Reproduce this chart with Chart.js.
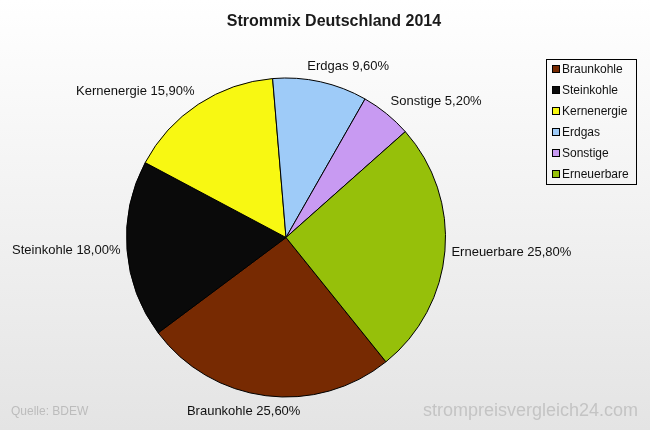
<!DOCTYPE html>
<html>
<head>
<meta charset="utf-8">
<title>Strommix Deutschland 2014</title>
<script src="https://cdn.jsdelivr.net/npm/chart.js@4.4.0/dist/chart.umd.min.js"></script>
<style>
  html, body { margin: 0; padding: 0; background: #fff; }
  #wrap { width: 650px; height: 430px; }
</style>
</head>
<body>
<div id="wrap"><canvas id="myChart" width="650" height="430"></canvas></div>
<script>
// Daten
var labels = ['Braunkohle', 'Steinkohle', 'Kernenergie', 'Erdgas', 'Sonstige', 'Erneuerbare'];
var anteile = [25.6, 18.0, 15.9, 9.6, 5.2, 25.8];
var farben = ['#772a02', '#0a0a0a', '#f8f812', '#9ecbf8', '#c89af2', '#96c00a'];
var titel = 'Strommix Deutschland 2014';
var quelle = 'Quelle: BDEW';
var marke = 'strompreisvergleich24.com';

function prozent(v) {
    return v.toFixed(2).replace('.', ',') + '%';
}

var hintergrund = {
    id: 'hintergrund',
    beforeDraw: function (chart) {
        var c = chart.ctx;
        var g = c.createLinearGradient(0, 0, 0, chart.height);
        g.addColorStop(0, '#ffffff');
        g.addColorStop(1, '#e4e4e4');
        c.save();
        c.fillStyle = g;
        c.fillRect(0, 0, chart.width, chart.height);
        c.restore();
    }
};

var beschriftung = {
    id: 'beschriftung',
    afterDraw: function (chart) {
        var c = chart.ctx;
        var meta = chart.getDatasetMeta(0);
        c.save();
        // Titel
        c.fillStyle = '#1a1a1a';
        c.font = 'bold 16px "Liberation Sans", Arial, sans-serif';
        c.textAlign = 'center';
        c.textBaseline = 'middle';
        c.fillText(titel, 334, 22);

        // Slice labels
        c.font = '13px "Liberation Sans", Arial, sans-serif';
        c.fillStyle = '#111';
        meta.data.forEach(function (arc, i) {
            var p = arc.getProps(['x', 'y', 'startAngle', 'endAngle', 'outerRadius'], true);
            var mid = (p.startAngle + p.endAngle) / 2;
            var cos = Math.cos(mid), sin = Math.sin(mid);
            var txt = labels[i] + ' ' + prozent(anteile[i]);
            var w = c.measureText(txt).width;
            var f = Math.max(-1, Math.min(1, cos * 3));
            var r = p.outerRadius + 6.5;
            c.fillText(txt, p.x + r * cos + w / 2 * f, p.y + r * sin + 9 * sin);
        });

        // Legende
        var lx = 546.5, ly = 59.5, lw = 90, lh = 125;
        c.strokeStyle = '#000';
        c.lineWidth = 1;
        c.strokeRect(lx, ly, lw, lh);
        c.font = '12px "Liberation Sans", Arial, sans-serif';
        c.textAlign = 'left';
        labels.forEach(function (l, i) {
            var y = 69 + i * 21;
            c.fillStyle = farben[i];
            c.fillRect(552, y - 3.5, 7, 7);
            c.strokeRect(552.5, y - 3.5, 7, 7);
            c.fillStyle = '#111';
            c.fillText(l, 562, y + 0.5);
        });

        // Quelle und Marke
        c.fillStyle = '#bcbcbc';
        c.font = '12px "Liberation Sans", Arial, sans-serif';
        c.fillText(quelle, 11, 412);
        c.fillStyle = '#c4c4c4';
        c.font = '18px "Liberation Sans", Arial, sans-serif';
        c.textAlign = 'right';
        c.fillText(marke, 638, 411);
        c.restore();
    }
};

var ctx = document.getElementById('myChart').getContext('2d');
var myChart = new Chart(ctx, {
    type: 'pie',
    data: {
        labels: labels,
        datasets: [{
            data: anteile,
            backgroundColor: farben,
            borderColor: '#000',
            borderWidth: 1,
            hoverOffset: 0
        }]
    },
    options: {
        responsive: false,
        animation: false,
        rotation: 141.2,
        layout: {
            padding: { top: 77, bottom: 32, left: 126, right: 204 }
        },
        plugins: {
            legend: { display: false },
            tooltip: { enabled: false },
            title: { display: false }
        }
    },
    plugins: [hintergrund, beschriftung]
});
</script>
</body>
</html>
